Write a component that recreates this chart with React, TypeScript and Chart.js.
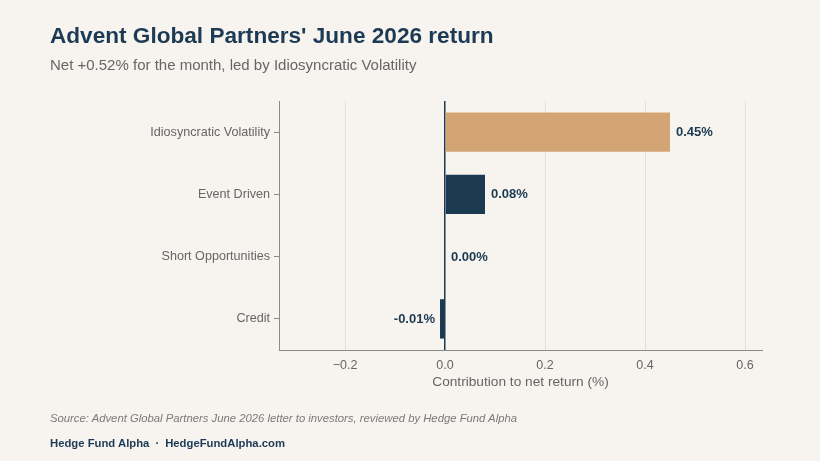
import React, { useEffect, useRef } from "react";
import { Chart, registerables } from "chart.js";

Chart.register(...registerables);

const categories = ["Idiosyncratic Volatility", "Event Driven", "Short Opportunities", "Credit"];
const contributions = [0.45, 0.08, 0.0, -0.01];
const xTickValues = [-0.2, 0, 0.2, 0.4, 0.6];

const BG = "#f7f4ef";
const NAVY = "#1b3a52";
const TAN = "#d4a574";
const FONT = "'Liberation Sans', Arial, Helvetica, sans-serif";

const valueLabels = {
  id: "valueLabels",
  afterDatasetsDraw(chart: any) {
    const ctx = chart.ctx;
    const meta = chart.getDatasetMeta(0);
    ctx.save();
    ctx.font = `bold 13px ${FONT}`;
    ctx.fillStyle = NAVY;
    ctx.textBaseline = "middle";
    meta.data.forEach((bar: any, i: number) => {
      const v = contributions[i];
      const txt = v.toFixed(2) + "%";
      if (v < 0) {
        ctx.textAlign = "right";
        ctx.fillText(txt, bar.x - 5, bar.y + 0.5);
      } else {
        ctx.textAlign = "left";
        ctx.fillText(txt, bar.x + 6, bar.y + 0.5);
      }
    });
    ctx.restore();
  },
};

export default function App() {
  const ref = useRef<HTMLCanvasElement | null>(null);

  useEffect(() => {
    document.body.style.margin = "0";
    document.body.style.background = BG;
    const canvas = ref.current!;
    const chart = new Chart(canvas, {
      type: "bar",
      data: {
        labels: categories,
        datasets: [
          {
            data: contributions,
            backgroundColor: contributions.map((_, i) => (i === 0 ? TAN : NAVY)),
            borderWidth: 0,
            categoryPercentage: 0.8,
            barPercentage: 0.79,
          },
        ],
      },
      options: {
        indexAxis: "y",
        animation: false,
        responsive: false,
        maintainAspectRatio: false,
        layout: { padding: { left: 0, top: 101, right: 58, bottom: 67 } },
        plugins: {
          legend: { display: false },
          tooltip: { enabled: false },
          title: { display: false },
        },
        scales: {
          x: {
            type: "linear",
            min: -0.332,
            max: 0.634,
            afterFit(scale: any) {
              scale.height = 44;
            },
            afterBuildTicks(scale: any) {
              scale.ticks = xTickValues.map((v) => ({ value: v }));
            },
            grid: {
              drawTicks: false,
              color: (c: any) => (c.tick && c.tick.value === 0 ? NAVY : "#e2dfda"),
              lineWidth: (c: any) => (c.tick && c.tick.value === 0 ? 1.5 : 1),
            },
            border: { display: true, color: "#8a8a8a", width: 1 },
            ticks: {
              padding: 8,
              color: "#666666",
              font: { family: FONT, size: 12.5 },
              callback: (v: any) => {
                const n = Number(v);
                const s = Math.abs(n).toFixed(1);
                return n < 0 ? "\u2212" + s : s;
              },
            },
            title: {
              display: true,
              text: "Contribution to net return (%)",
              color: "#666666",
              font: { family: FONT, size: 13.7 },
              padding: { top: 0, bottom: 4 },
            },
          },
          y: {
            afterFit(scale: any) {
              scale.width = 279;
            },
            grid: {
              offset: false,
              drawOnChartArea: false,
              drawTicks: true,
              tickLength: 5,
              color: "#8a8a8a",
            },
            border: { display: true, color: "#8a8a8a", width: 1 },
            ticks: {
              padding: 4,
              color: "#666666",
              font: { family: FONT, size: 12.6 },
            },
          },
        },
      },
      plugins: [valueLabels],
    } as any);
    return () => chart.destroy();
  }, []);

  return (
    <div style={{ position: "relative", width: 820, height: 461, background: BG, fontFamily: FONT, overflow: "hidden" }}>
      <canvas ref={ref} width={820} height={461} style={{ position: "absolute", left: 0, top: 0, width: 820, height: 461 }} />
      <div style={{ position: "absolute", left: 50, top: 23, fontSize: 22.6, fontWeight: "bold", color: "#1d3a55", whiteSpace: "nowrap", lineHeight: "26px" }}>
        Advent Global Partners' June 2026 return
      </div>
      <div style={{ position: "absolute", left: 50, top: 56, fontSize: 15, color: "#666666", whiteSpace: "nowrap", lineHeight: "18px" }}>
        Net +0.52% for the month, led by Idiosyncratic Volatility
      </div>
      <div style={{ position: "absolute", left: 50, top: 411, fontSize: 11.3, fontStyle: "italic", color: "#7a7a7a", whiteSpace: "nowrap", lineHeight: "14px" }}>
        Source: Advent Global Partners June 2026 letter to investors, reviewed by Hedge Fund Alpha
      </div>
      <div style={{ position: "absolute", left: 50, top: 436, fontSize: 11.3, fontWeight: "bold", color: "#1d3a55", whiteSpace: "nowrap", lineHeight: "14px" }}>
        <span>Hedge Fund Alpha</span>
        <span style={{ margin: "0 6px" }}>·</span>
        <span>HedgeFundAlpha.com</span>
      </div>
    </div>
  );
}
